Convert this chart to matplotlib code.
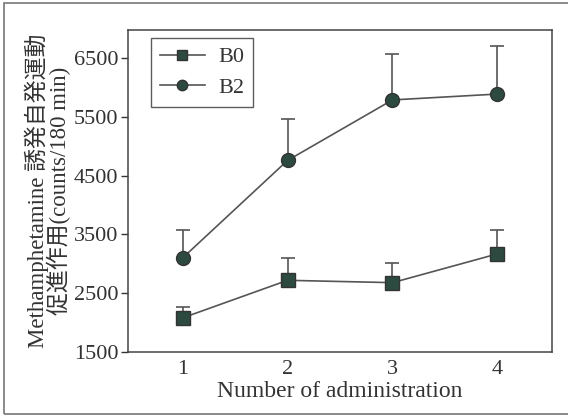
import matplotlib
matplotlib.use("Agg")
import matplotlib.pyplot as plt
from matplotlib.patches import Rectangle
from matplotlib.lines import Line2D

x = [1, 2, 3, 4]
b0 = [2080, 2720, 2680, 3170]
b0_err = [190, 380, 340, 410]
b2 = [3100, 4760, 5790, 5890]
b2_err = [470, 710, 790, 820]
yticks = [1500, 2500, 3500, 4500, 5500, 6500]
labels = ['B0', 'B2']

fam = ['Liberation Serif', 'Noto Sans CJK JP']
plt.rcParams['font.family'] = fam

fig = plt.figure(figsize=(5.68, 4.17), dpi=100)
ax = fig.add_axes([128/568, 1-352/417, (552-128)/568, (352-30)/417])

mcol = '#2c4a40'
lcol = '#555555'
ax.errorbar(x, b0, yerr=[[0]*4, b0_err], color=lcol, lw=1.2, marker='s', ms=9.5,
            mfc=mcol, mec='#333333', ecolor='#555555', elinewidth=1.2, capsize=5,
            capthick=1.2)
ax.errorbar(x, b2, yerr=[[0]*4, b2_err], color=lcol, lw=1.2, marker='o', ms=10,
            mfc=mcol, mec='#333333', ecolor='#555555', elinewidth=1.2, capsize=5,
            capthick=1.2)

ax.set_xlim(0.48, 4.52)
ax.set_ylim(1500, 6980)
ax.set_yticks(yticks)
ax.set_xticks(x)
ax.tick_params(axis='y', direction='out', length=5, width=1, colors='#333333',
               labelsize=16, pad=2)
ax.tick_params(axis='x', length=0, labelsize=16, colors='#333333', pad=6)
for s in ax.spines.values():
    s.set_color('#444444')
    s.set_linewidth(1.1)

ax.set_xlabel('Number of administration', fontsize=17, color='#333333', labelpad=1)
ax.set_ylabel('Methamphetamine 誘発自発運動\n促進作用(counts/180 min)', fontsize=16.5,
              color='#333333', linespacing=0.9, labelpad=2)

handles = [Line2D([], [], color=lcol, lw=1.2, marker='s', ms=7, mfc=mcol, mec='#333333'),
           Line2D([], [], color=lcol, lw=1.2, marker='o', ms=7.5, mfc=mcol, mec='#333333')]
leg = ax.legend(handles, labels, loc='upper left', bbox_to_anchor=(0.055, 0.975),
                fontsize=16, frameon=True, fancybox=False, edgecolor='#333333',
                borderpad=0.4, handlelength=2.0, labelspacing=0.45, borderaxespad=0,
                handletextpad=0.6)
leg.get_frame().set_linewidth(1.0)
for t in leg.get_texts():
    t.set_color('#333333')

fig.patches.append(Rectangle((4/568, 3/417), 600/568, 411/417, transform=fig.transFigure,
                             fill=False, edgecolor='#777777', lw=1.2))

fig.savefig('out.png', dpi=100)
